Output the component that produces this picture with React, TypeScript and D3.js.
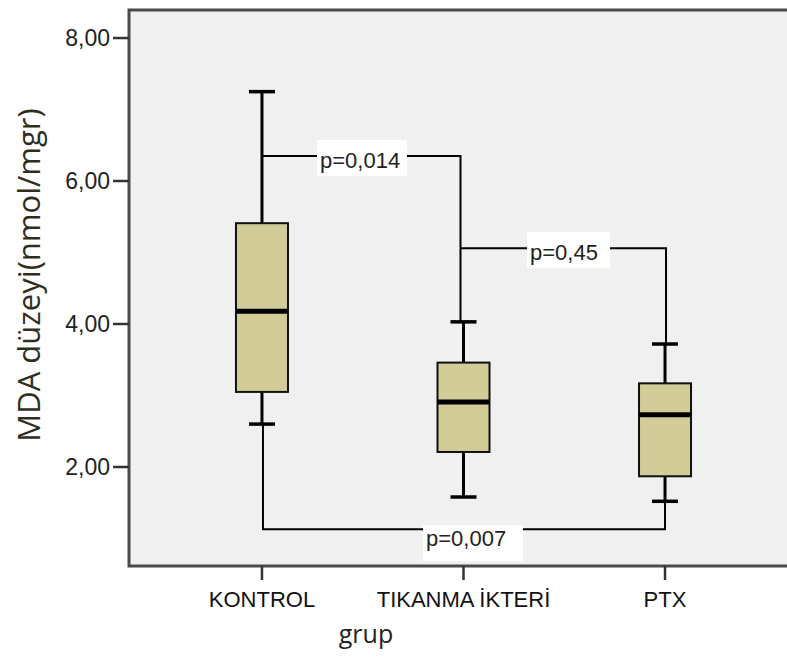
import * as d3 from 'd3';

// groups and box statistics (MDA, nmol/mgr)
const categories = ['KONTROL', 'TIKANMA İKTERİ', 'PTX'];
const whiskerLow = [2.6, 1.58, 1.52];
const q1 = [3.05, 2.21, 1.87];
const median = [4.18, 2.91, 2.73];
const q3 = [5.41, 3.46, 3.17];
const whiskerHigh = [7.25, 4.03, 3.72];

// y ticks
const yTicks = [2, 4, 6, 8];
const tickLabel = (v: number) => v.toFixed(2).replace('.', ',');

// pairwise comparisons
const pLabels = ['p=0,014', 'p=0,45', 'p=0,007'];
const pFrom = [0, 1, 0];
const pTo = [1, 2, 2];
const pLevel = [6.35, 5.06, 1.13];
const pSide = ['top', 'top', 'bottom'];

const W = 787;
const H = 667;
const plot = { left: 129, top: 10, right: 790, bottom: 566 };

export default function App() {
  const y = d3.scaleLinear().domain([0.615, 8.392]).range([plot.bottom, plot.top]);
  const x = d3
    .scalePoint<string>()
    .domain(categories)
    .range([plot.left, plot.right])
    .padding(0.64)
    .align(0.5155);

  const boxW = 52;
  const capW = 26;
  const line = d3.line<[number, number]>();
  const cx = (i: number) => x(categories[i]) as number;

  // bracket paths, built from the box ends they join
  const bracketPath = (k: number) => {
    const a = pFrom[k];
    const b = pTo[k];
    const ly = y(pLevel[k]);
    if (pSide[k] === 'bottom') {
      // below the boxes: drop from both lower caps
      return line([
        [cx(a) + 1, y(whiskerLow[a])],
        [cx(a) + 1, ly],
        [cx(b), ly],
        [cx(b), y(whiskerLow[b])],
      ]);
    }
    // the first group's whisker or an earlier bracket's leg is the left side
    const x0 = a === 0 ? cx(a) : cx(a) - 3;
    const x1 = b === 2 ? cx(b) + 1 : cx(b) - 3;
    return line([
      [x0, ly],
      [x1, ly],
      [x1, y(whiskerHigh[b])],
    ]);
  };

  // label boxes
  const labelX = [320, 530, 426];
  const labelW = [90, 83, 100];

  return (
    <div style={{ position: 'absolute', left: 0, top: 0 }}>
      <svg width={W} height={H} style={{ display: 'block', background: '#fff' }}>
        <rect
          x={plot.left}
          y={plot.top}
          width={plot.right - plot.left}
          height={plot.bottom - plot.top}
          fill="#f0f0f0"
          stroke="#4a4a4a"
          strokeWidth={3}
        />

        {/* y axis */}
        {yTicks.map((t) => (
          <g key={t}>
            <line x1={plot.left - 16} x2={plot.left} y1={y(t)} y2={y(t)} stroke="#333" strokeWidth={2.5} />
            <text
              x={plot.left - 19}
              y={y(t) + 8}
              textAnchor="end"
              fontFamily="Liberation Sans, Arial, sans-serif"
              fontSize={23}
              fill="#222"
            >
              {tickLabel(t)}
            </text>
          </g>
        ))}

        {/* x axis */}
        {categories.map((c) => (
          <g key={c}>
            <line x1={x(c)} x2={x(c)} y1={plot.bottom} y2={plot.bottom + 14} stroke="#333" strokeWidth={2.5} />
            <text
              x={x(c)}
              y={607}
              textAnchor="middle"
              fontFamily="Liberation Sans, Arial, sans-serif"
              fontSize={22}
              fill="#111"
            >
              {c}
            </text>
          </g>
        ))}

        {/* brackets */}
        {pLabels.map((p, k) => (
          <path key={p} d={bracketPath(k) || ''} fill="none" stroke="#000" strokeWidth={2} />
        ))}

        {/* boxes */}
        {categories.map((c, i) => {
          const xc = cx(i);
          return (
            <g key={c}>
              <line x1={xc} x2={xc} y1={y(whiskerHigh[i])} y2={y(q3[i])} stroke="#000" strokeWidth={3} />
              <line x1={xc} x2={xc} y1={y(q1[i])} y2={y(whiskerLow[i])} stroke="#000" strokeWidth={3} />
              <line x1={xc - capW / 2} x2={xc + capW / 2} y1={y(whiskerHigh[i])} y2={y(whiskerHigh[i])} stroke="#000" strokeWidth={3.5} />
              <line x1={xc - capW / 2} x2={xc + capW / 2} y1={y(whiskerLow[i])} y2={y(whiskerLow[i])} stroke="#000" strokeWidth={3.5} />
              <rect
                x={xc - boxW / 2}
                y={y(q3[i])}
                width={boxW}
                height={y(q1[i]) - y(q3[i])}
                fill="#d2cd98"
                stroke="#111"
                strokeWidth={2}
              />
              <line x1={xc - boxW / 2} x2={xc + boxW / 2} y1={y(median[i])} y2={y(median[i])} stroke="#000" strokeWidth={5} />
            </g>
          );
        })}

        {/* p value labels */}
        {pLabels.map((p, k) => {
          const ly = y(pLevel[k]);
          const below = pSide[k] === 'bottom';
          const top = below ? ly - 4 : ly - 16;
          return (
            <g key={p}>
              <rect x={labelX[k] - 3} y={top} width={labelW[k]} height={36} fill="#fff" />
              <text
                x={labelX[k]}
                y={below ? ly + 17 : ly + 12}
                fontFamily="Liberation Sans, Arial, sans-serif"
                fontSize={22}
                fill="#222"
              >
                {p}
              </text>
            </g>
          );
        })}

        {/* axis titles */}
        <text
          transform={`translate(40, 275) rotate(-90)`}
          textAnchor="middle"
          fontFamily="Open Sans, sans-serif"
          fontSize={31}
          fill="#2e2e1c"
        >
          MDA düzeyi(nmol/mgr)
        </text>
        <text x={366} y={643} textAnchor="middle" fontFamily="Open Sans, sans-serif" fontSize={25} fill="#222">
          grup
        </text>
      </svg>
    </div>
  );
}
